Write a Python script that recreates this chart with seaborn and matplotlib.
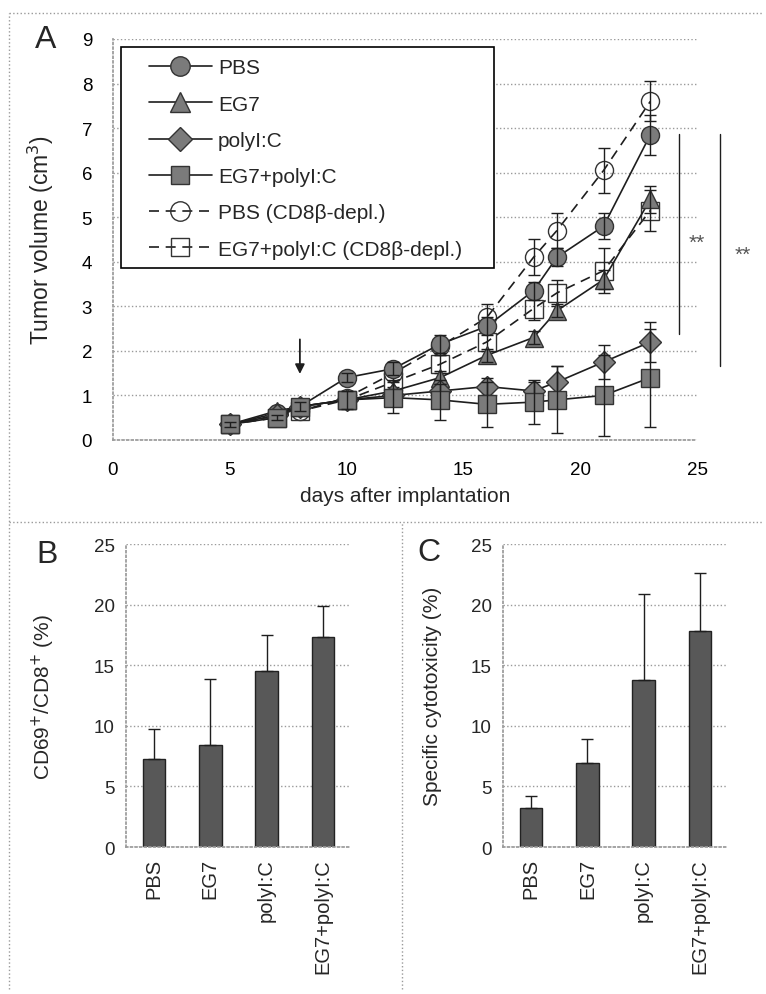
import numpy as np
import pandas as pd
import matplotlib
matplotlib.use('Agg')
import matplotlib.pyplot as plt
import seaborn as sns
from matplotlib.lines import Line2D
from matplotlib.patches import Rectangle

sns.set_theme(style='white')
plt.rcParams['font.family'] = ['Liberation Sans', 'DejaVu Sans']

# panel A data (tumor volume, cm3)
days = [5, 7, 8, 10, 12, 14, 16, 18, 19, 21, 23]
pbs = [0.35, 0.6, 0.75, 1.4, 1.6, 2.15, 2.55, 3.35, 4.1, 4.8, 6.85]
pbs_err = [0.05, 0.05, 0.1, 0.1, 0.15, 0.2, 0.2, 0.2, 0.2, 0.3, 0.45]
eg7 = [0.35, 0.65, 0.75, 0.9, 1.1, 1.4, 1.9, 2.3, 2.9, 3.6, 5.4]
eg7_err = [0.05, 0.05, 0.1, 0.1, 0.1, 0.15, 0.15, 0.15, 0.15, 0.22, 0.3]
polyic = [0.35, 0.55, 0.75, 0.9, 1.0, 1.1, 1.2, 1.1, 1.3, 1.75, 2.2]
polyic_err = [0.05, 0.05, 0.1, 0.1, 0.15, 0.15, 0.18, 0.2, 0.35, 0.38, 0.45]
combo = [0.35, 0.5, 0.75, 0.9, 0.95, 0.9, 0.8, 0.85, 0.9, 1.0, 1.4]
combo_err = [0.05, 0.05, 0.1, 0.2, 0.35, 0.45, 0.5, 0.5, 0.75, 0.9, 1.1]
pbs_depl = [0.35, 0.55, 0.65, 0.95, 1.5, 2.1, 2.75, 4.1, 4.7, 6.05, 7.6]
pbs_depl_err = [0.05, 0.05, 0.1, 0.1, 0.15, 0.2, 0.3, 0.4, 0.4, 0.5, 0.45]
combo_depl = [0.35, 0.5, 0.65, 0.9, 1.3, 1.7, 2.2, 2.95, 3.3, 3.8, 5.15]
combo_depl_err = [0.05, 0.05, 0.1, 0.1, 0.15, 0.2, 0.2, 0.25, 0.3, 0.5, 0.47]

# panel B / C data
groups = ['PBS', 'EG7', 'polyI:C', 'EG7+polyI:C']
cd69 = [7.3, 8.4, 14.5, 17.3]
cd69_err = [2.4, 5.5, 3.0, 2.6]
cyto = [3.2, 6.9, 13.8, 17.8]
cyto_err = [1.0, 2.0, 7.1, 4.8]

line_c = '#1e1e1e'
fill_c = '#7b7b7b'
edge_c = '#333333'
grid_c = '#9a9a9a'
dash = (0, (6, 4))

fig = plt.figure(figsize=(7.66, 9.95), dpi=100)

# ---- panel A
axA = fig.add_axes([0.1475, 0.5568, 0.7625, 0.403])

series = [
    ('PBS (CD8\u03b2-depl.)', pbs_depl, pbs_depl_err, 'o', dash, False),
    ('EG7+polyI:C (CD8\u03b2-depl.)', combo_depl, combo_depl_err, 's', dash, False),
    ('PBS', pbs, pbs_err, 'o', '-', True),
    ('EG7', eg7, eg7_err, '^', '-', True),
    ('polyI:C', polyic, polyic_err, 'D', '-', True),
    ('EG7+polyI:C', combo, combo_err, 's', '-', True),
]
sizes = {'o': 13, 's': 12.5, '^': 13, 'D': 11}
for name, vals, err, mk, ls, filled in series:
    df = pd.DataFrame({'day': days, 'vol': vals})
    sns.lineplot(data=df, x='day', y='vol', ax=axA, color=line_c, linestyle=ls,
                 linewidth=1.2, marker=mk, markersize=sizes[mk],
                 markerfacecolor=fill_c if filled else 'none',
                 markeredgecolor=edge_c, markeredgewidth=1.0,
                 errorbar=None, legend=False)
    axA.errorbar(days, vals, yerr=err, fmt='none', ecolor=line_c,
                 elinewidth=1.0, capsize=4, capthick=1.0)

axA.set_xlim(0, 25)
axA.set_ylim(0, 9)
axA.set_xticks(range(0, 26, 5))
axA.set_yticks(range(0, 10))
axA.yaxis.grid(True, linestyle=':', color=grid_c, linewidth=1.0)
axA.xaxis.grid(False)
for s in ['top', 'right']:
    axA.spines[s].set_visible(False)
for s in ['left', 'bottom']:
    axA.spines[s].set_color(grid_c)
    axA.spines[s].set_linestyle(':')
axA.tick_params(axis='both', labelsize=13.5, colors='black', length=3, color=grid_c)
axA.tick_params(axis='x', pad=12)
axA.tick_params(axis='y', length=0, pad=15)
axA.set_xlabel('days after implantation', fontsize=15)
axA.set_ylabel('Tumor volume (cm$^3$)', fontsize=16.5)
axA.xaxis.set_label_coords(0.5, -0.115)
axA.yaxis.set_label_coords(-0.097, 0.5)

# arrow for treatment start
axA.annotate('', xy=(8, 1.42), xytext=(8, 2.32),
             arrowprops=dict(arrowstyle='-|>', color=line_c, lw=1.3, mutation_scale=14))

# significance lines
axA.plot([24.23, 24.23], [2.38, 6.86], color=line_c, lw=1.0, clip_on=False)
axA.plot([25.98, 25.98], [1.66, 6.86], color=line_c, lw=1.0, clip_on=False)
axA.text(25.0, 4.44, '**', fontsize=15, color='#555555', ha='center', va='center', clip_on=False)
axA.text(26.97, 4.17, '**', fontsize=15, color='#555555', ha='center', va='center', clip_on=False)

# legend: own box, entries inside
axA.add_patch(Rectangle((0.0137, 0.429), 0.6387, 0.551, transform=axA.transAxes,
                        fill=True, facecolor='white', edgecolor='black', lw=1.2, zorder=4))
handles = []
for name, vals, err, mk, ls, filled in [series[2], series[3], series[4], series[5], series[0], series[1]]:
    handles.append(Line2D([0], [0], color=line_c, linestyle=ls, linewidth=1.2, marker=mk,
                          markersize=sizes[mk] + 1,
                          markerfacecolor=fill_c if filled else 'none',
                          markeredgecolor=edge_c, label=name))
leg = axA.legend(handles=handles, loc='upper left', bbox_to_anchor=(0.062, 0.952),
                 fontsize=15, frameon=False, labelspacing=0.83, handlelength=3.0,
                 handletextpad=0.3, borderpad=0, borderaxespad=0)
leg.set_zorder(5)

# ---- panels B and C
def bar_panel(rect, vals, err, ylabel, lab_x):
    ax = fig.add_axes(rect)
    df = pd.DataFrame({'group': groups, 'val': vals})
    sns.barplot(data=df, x='group', y='val', ax=ax, color='#585858', saturation=1,
                edgecolor='#222222', linewidth=1.0, width=0.4, errorbar=None)
    ax.errorbar(range(len(groups)), vals, yerr=[np.zeros(len(err)), err], fmt='none',
                ecolor=line_c, elinewidth=1.0, capsize=4, capthick=1.0)
    ax.set_xlim(-0.5, 3.5)
    ax.set_ylim(0, 25)
    ax.set_yticks(range(0, 26, 5))
    ax.yaxis.grid(True, linestyle=':', color=grid_c, linewidth=1.0)
    ax.xaxis.grid(False)
    for s in ['top', 'right']:
        ax.spines[s].set_visible(False)
    for s in ['left', 'bottom']:
        ax.spines[s].set_color(grid_c)
        ax.spines[s].set_linestyle(':')
    ax.set_xticks([-0.5, 0.5, 1.5, 2.5, 3.5], minor=True)
    ax.set_xticks(range(len(groups)))
    ax.set_xticklabels(groups, rotation=90, fontsize=14.5)
    ax.tick_params(axis='x', which='major', length=0, pad=8)
    ax.tick_params(axis='x', which='minor', length=3, color=grid_c)
    ax.tick_params(axis='y', labelsize=13.5, length=0, pad=8)
    ax.set_xlabel('')
    ax.set_ylabel(ylabel, fontsize=15)
    ax.yaxis.set_label_coords(lab_x, 0.5)
    return ax

bar_panel([0.1645, 0.1477, 0.2937, 0.3045], cd69, cd69_err,
          'CD69$^{+}$/CD8$^{+}$ (%)', -0.305)
bar_panel([0.6567, 0.1477, 0.2937, 0.3045], cyto, cyto_err,
          'Specific cytotoxicity (%)', -0.27)

# panel letters
fig.text(46 / 766, 1 - 40 / 995, 'A', fontsize=23, ha='center', va='center')
fig.text(47 / 766, 1 - 555 / 995, 'B', fontsize=23, ha='center', va='center')
fig.text(429 / 766, 1 - 553 / 995, 'C', fontsize=23, ha='center', va='center')

# dotted frame and separators
frame_kw = dict(color=grid_c, linestyle=':', linewidth=1.0, transform=fig.transFigure)
fig.add_artist(Line2D([0.012, 0.995], [0.986, 0.986], **frame_kw))
fig.add_artist(Line2D([0.012, 0.012], [0.005, 0.986], **frame_kw))
fig.add_artist(Line2D([0.012, 0.995], [1 - 523 / 995, 1 - 523 / 995], **frame_kw))
fig.add_artist(Line2D([402 / 766, 402 / 766], [0.005, 1 - 523 / 995], **frame_kw))

fig.savefig('out.png', dpi=100)
